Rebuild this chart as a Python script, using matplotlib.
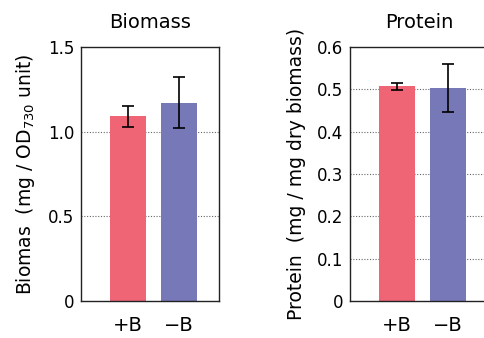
import numpy as np
import matplotlib
matplotlib.use("Agg")
import matplotlib.pyplot as plt

# data
groups = ["+B", "\u2212B"]
biomass = [1.09, 1.17]
biomass_err = [0.06, 0.15]
protein = [0.507, 0.503]
protein_err = [0.009, 0.057]
bar_colors = ["#F06575", "#7778B8"]

plt.rcParams['font.family'] = ['DejaVu Sans']

fig = plt.figure(figsize=(4.84, 3.38), dpi=100)
ax1 = fig.add_axes([81/484, 37/338, 138/484, 254/338])
ax2 = fig.add_axes([350/484, 37/338, 138/484, 254/338])


def panel(ax, vals, errs, title, ylabel, ymax, yticks, yticklabels):
    x = np.arange(len(vals))
    ax.bar(x, vals, width=0.71, color=bar_colors, zorder=2)
    ax.errorbar(x, vals, yerr=errs, fmt='none', ecolor='black',
                elinewidth=1.2, capsize=4.5, capthick=1.2, zorder=3)
    ax.set_xlim(-0.93, 1.80)
    ax.set_ylim(0, ymax)
    ax.set_xticks(x)
    ax.set_xticklabels(groups, fontsize=14)
    ax.set_yticks(yticks)
    ax.set_yticklabels(yticklabels, fontsize=12)
    ax.tick_params(axis='y', length=0, pad=5)
    ax.tick_params(axis='x', length=0, pad=11)
    for y in yticks[1:-1]:
        ax.axhline(y, color='#666666', linestyle=(0, (1, 1.5)), linewidth=0.8, zorder=1)
    for s in ax.spines.values():
        s.set_linewidth(1.0)
        s.set_color('#222222')
    ax.set_title(title, fontsize=14, pad=14)
    ax.set_ylabel(ylabel, fontsize=13.5, labelpad=8)


panel(ax1, biomass, biomass_err, "Biomass",
      "Biomas  (mg / OD$_\\mathregular{730}$ unit)", 1.5,
      [0, 0.5, 1.0, 1.5], ["0", "0.5", "1.0", "1.5"])
panel(ax2, protein, protein_err, "Protein",
      "Protein  (mg / mg dry biomass)", 0.6,
      [0, 0.1, 0.2, 0.3, 0.4, 0.5, 0.6],
      ["0", "0.1", "0.2", "0.3", "0.4", "0.5", "0.6"])

fig.savefig("out.png", dpi=100)
